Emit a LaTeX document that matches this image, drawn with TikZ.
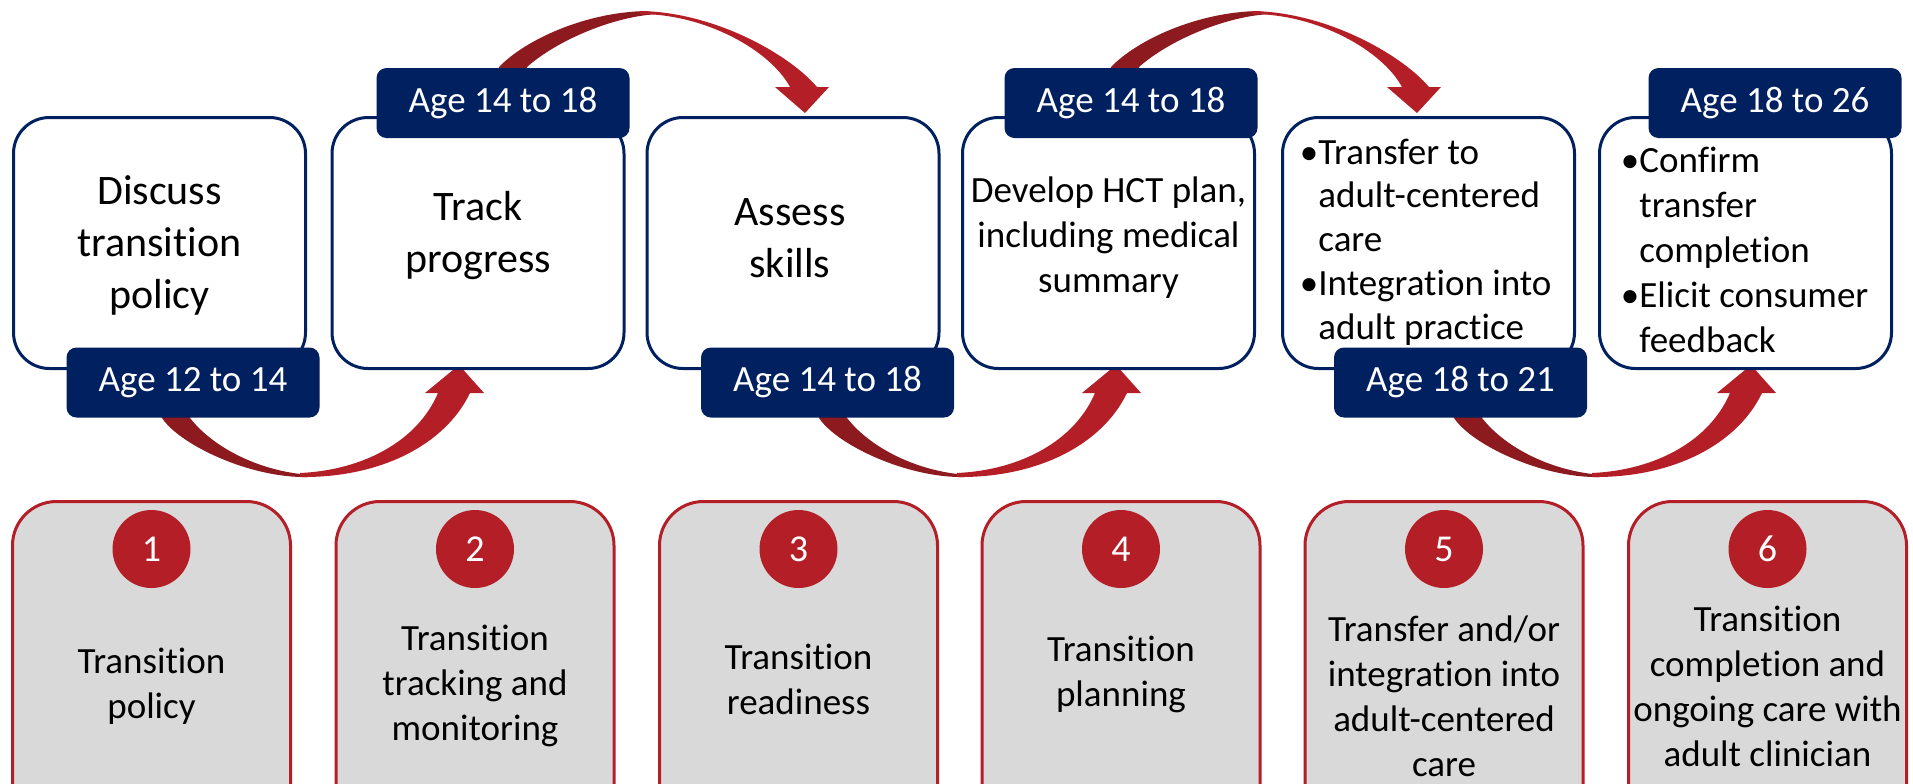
\documentclass[tikz,border=0pt]{standalone}
\usepackage{fontspec}
\setmainfont[Ligatures=NoCommon]{Carlito}
\definecolor{navy}{HTML}{002060}
\definecolor{cred}{HTML}{B31E27}
\definecolor{dred}{HTML}{8C1A1F}
\definecolor{lgray}{HTML}{D9D9D9}
\newcommand{\fntBig}{\fontsize{21pt}{26pt}\selectfont}
\newcommand{\fntMid}{\fontsize{18.5pt}{22.5pt}\selectfont}
\newcommand{\fntBul}{\fontsize{18.5pt}{21.9pt}\selectfont}
\newcommand{\fntNum}{\fontsize{19pt}{22pt}\selectfont}
\newcommand{\drawBotArrow}{%
  \fill[dred] (160,410) -- (162,418) .. controls (180,445) and (250,478) .. (307,477) -- (313,475) .. controls (265,473) and (215,450) .. (190,418) -- (188,410) -- cycle;
  \fill[cred] (300,477) .. controls (380,478) and (445,445) .. (470,393) -- (484,393) -- (459,365) -- (425,393) -- (438,393) .. controls (418,440) and (365,470) .. (300,473) -- cycle;
}
\newcommand{\drawTopArrow}{%
  \fill[dred] (497,75) -- (499,67) .. controls (525,40) and (585,12) .. (647,11) -- (657,14) .. controls (610,17) and (555,42) .. (527,67) -- (525,75) -- cycle;
  \fill[cred] (640,11) .. controls (715,12) and (790,55) .. (817,87) -- (829,87) -- (805,113) -- (775,87) -- (790,87) .. controls (770,50) and (705,14) .. (640,14) -- cycle;
}
\begin{document}
\begin{tikzpicture}[x=0.5pt,y=-0.5pt,
  wbox/.style={draw=navy, line width=1.5pt, fill=white, rounded corners=18pt,
    minimum width=146pt, minimum height=125.5pt, inner sep=0pt},
  gbox/.style={draw=cred, line width=1.5pt, fill=lgray, rounded corners=22pt,
    minimum width=139pt, minimum height=200pt, inner sep=0pt},
  agelab/.style={fill=navy, rounded corners=5pt, minimum width=126.5pt,
    minimum height=35pt, inner sep=0pt, text=white, font=\fntMid},
  numc/.style={circle, fill=cred, minimum size=39pt, inner sep=0pt,
    text=white, font=\fntNum},
  bigtxt/.style={align=center, inner sep=0pt, font=\fntBig},
  midtxt/.style={align=center, inner sep=0pt, font=\fntMid},
  bultxt/.style={align=left, inner sep=0pt, font=\fntMid, anchor=west}]
\useasboundingbox (0,0) rectangle (1913,783);
\fill[white] (0,0) rectangle (1913,783);

% curved arrows
\drawBotArrow
\begin{scope}[shift={(657,0)}]\drawBotArrow\end{scope}
\begin{scope}[shift={(1292,0)}]\drawBotArrow\end{scope}
\drawTopArrow
\begin{scope}[shift={(612,0)}]\drawTopArrow\end{scope}

% top boxes
\node[wbox] (b1) at (159.5,243) {};
\node[wbox] (b2) at (478,243) {};
\node[wbox] (b3) at (793,243) {};
\node[wbox] (b4) at (1108.5,243) {};
\node[wbox] (b5) at (1428.5,243) {};
\node[wbox] (b6) at (1745.5,243) {};

\node[bigtxt] (t1) at (159.5,245) {Discuss\\transition\\policy};
\node[bigtxt] (t2) at (478,236) {Track\\progress};
\node[bigtxt] (t3) at (790,238) {Assess\\skills};
\node[midtxt] (t4) at (1108.5,238) {Develop HCT plan,\\including medical\\summary};
\node[bultxt, font=\fntBul] (t5) at (1318,242) {\llap{•}Transfer to\\adult-centered\\care\\\llap{•}Integration into\\adult practice};
\node[bultxt] (t6) at (1639,250) {\llap{•}Confirm\\transfer\\completion\\\llap{•}Elicit consumer\\feedback};

% age labels
\node[agelab] (a1) at (193,382.5) {Age 12 to 14};
\node[agelab] (a2) at (503,103) {Age 14 to 18};
\node[agelab] (a3) at (827.5,382.5) {Age 14 to 18};
\node[agelab] (a4) at (1131,103) {Age 14 to 18};
\node[agelab] (a5) at (1460.5,382.5) {Age 18 to 21};
\node[agelab] (a6) at (1775,103) {Age 18 to 26};

% bottom boxes
\node[gbox] (g1) at (151.5,701.5) {};
\node[gbox] (g2) at (475,701.5) {};
\node[gbox] (g3) at (798.5,701.5) {};
\node[gbox] (g4) at (1121,701.5) {};
\node[gbox] (g5) at (1444,701.5) {};
\node[gbox] (g6) at (1767.5,701.5) {};

\node[numc] (c1) at (151.5,549) {1};
\node[numc] (c2) at (475,549) {2};
\node[numc] (c3) at (798.5,549) {3};
\node[numc] (c4) at (1121,549) {4};
\node[numc] (c5) at (1444,549) {5};
\node[numc] (c6) at (1767.5,549) {6};

\node[midtxt] (s1) at (151.5,686) {Transition\\policy};
\node[midtxt] (s2) at (475,686) {Transition\\tracking and\\monitoring};
\node[midtxt] (s3) at (798.5,679.5) {Transition\\readiness};
\node[midtxt] (s4) at (1121,674) {Transition\\planning};
\node[midtxt] (s5) at (1444,696) {Transfer and/or\\integration into\\adult-centered\\care};
\node[midtxt] (s6) at (1767.5,686) {Transition\\completion and\\ongoing care with\\adult clinician};
\end{tikzpicture}
\end{document}
